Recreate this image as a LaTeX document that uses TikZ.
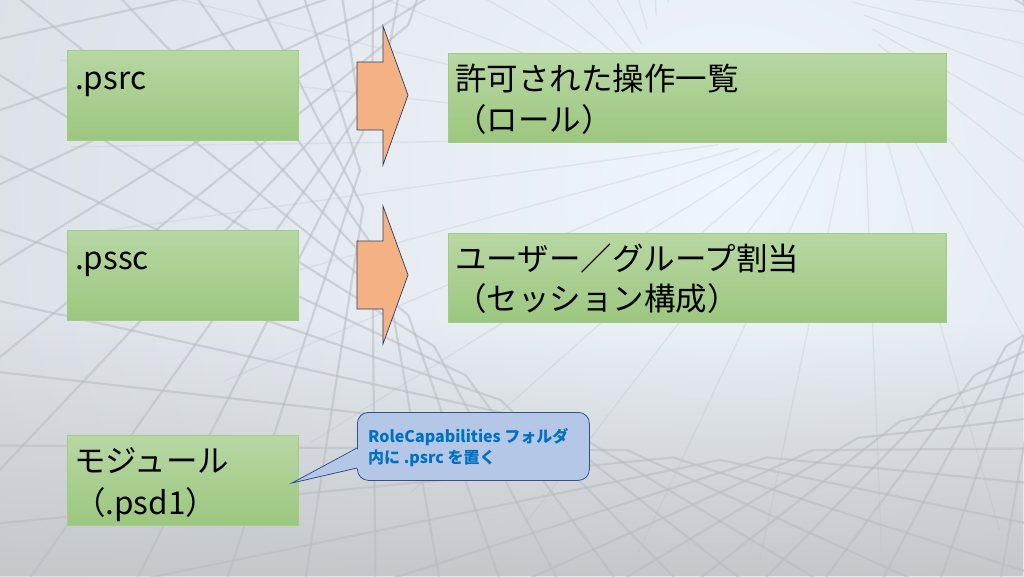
\documentclass[tikz,border=0pt]{standalone}
\usepackage{fontspec}
\setmainfont{Noto Sans CJK JP}
\usetikzlibrary{fadings}
\definecolor{gtop}{HTML}{B7D7A3}
\definecolor{gbot}{HTML}{9CC77F}
\definecolor{gborder}{HTML}{A0CC84}
\definecolor{arrfill}{HTML}{F4B183}
\definecolor{arrdraw}{HTML}{2F3D63}
\definecolor{cfill}{HTML}{B4C7E7}
\definecolor{cdraw}{HTML}{2F528F}
\definecolor{ctext}{HTML}{0070C0}
\definecolor{bgbase}{HTML}{D3D7DC}
\definecolor{bglight}{HTML}{EEF5FB}
\definecolor{bgbottom}{HTML}{C5C8CB}
\definecolor{latt}{HTML}{B7BCC2}
\tikzfading[name=fadeup, top color=transparent!100, bottom color=transparent!0]
\tikzset{
  gbox/.style={draw=gborder, line width=0.8pt, top color=gtop, bottom color=gbot,
    anchor=north west, inner sep=0pt},
  big/.style={font=\fontsize{31.5}{40}\selectfont, anchor=base west, inner sep=0pt, text=black},
  blockarrow/.style={fill=arrfill, draw=arrdraw, line width=0.7pt, line join=miter},
  lattline/.style={draw=latt, line width=2.2pt, opacity=0.55},
  lattin/.style={draw=latt, line width=1.4pt, opacity=0.25},
  ctxt/.style={font=\bfseries\fontsize{16}{21}\selectfont, text=ctext, anchor=base west, inner sep=0pt}
}
\begin{document}
\begin{tikzpicture}[x=1pt,y=-1pt]
\useasboundingbox (0,0) rectangle (1024,576);
% background
\begin{scope}
\clip (0,0) rectangle (1024,576);
\fill[bgbase] (0,0) rectangle (1024,576);
\shade[inner color=bglight, outer color=bgbase] (730,190) circle (1150);
\fill[bgbottom, path fading=fadeup] (0,320) rectangle (1024,576);
\foreach \a in {0,7.5,...,352.5} {
  \draw[lattline] ({720+360*cos(\a)},{170+290*sin(\a)}) -- ({720+1500*cos(\a+62)},{170+1200*sin(\a+62)});
  \draw[lattline] ({720+360*cos(\a)},{170+290*sin(\a)}) -- ({720+1500*cos(\a-62)},{170+1200*sin(\a-62)});
}
\foreach \a in {0,10,...,350} {
  \draw[lattin] ({760+120*cos(\a)},{60+90*sin(\a)}) -- ({760+700*cos(\a+50)},{60+500*sin(\a+50)});
}
\end{scope}

% left boxes
\node[gbox, minimum width=231pt, minimum height=90pt] (psrc) at (67,50) {};
\node[gbox, minimum width=231pt, minimum height=90pt] (pssc) at (67,230) {};
\node[gbox, minimum width=231pt, minimum height=90pt] (mod) at (67,435) {};
% right boxes
\node[gbox, minimum width=498pt, minimum height=89pt] (role) at (448,53) {};
\node[gbox, minimum width=498pt, minimum height=89pt] (sess) at (448,233) {};

% texts
\node[big] (psrct) at (75,89) {.psrc};
\node[big] (pssct) at (75,269) {.pssc};
\node[big] (modt1) at (74,472) {モジュール};
\node[big] (modt2) at (74,514) {（.psd1）};
\node[big] (rolet1) at (455,90) {許可された操作一覧};
\node[big] (rolet2) at (455,131) {（ロール）};
\node[big] (sesst1) at (455,270) {ユーザー／グループ割当};
\node[big] (sesst2) at (455,310) {（セッション構成）};

% block arrows
\draw[blockarrow] (357,62) -- (383,62) -- (383,26) -- (408,95) -- (383,165) -- (383,130) -- (357,130) -- cycle;
\draw[blockarrow] (357,241) -- (383,241) -- (383,206) -- (408,275) -- (383,344) -- (383,309) -- (357,309) -- cycle;

% callout
\node[draw=cdraw, fill=cfill, line width=0.8pt, rounded corners=11pt, anchor=north west,
      minimum width=232pt, minimum height=68pt, inner sep=0pt] (call) at (357,412) {};
\coordinate (tip) at (292,483);
\coordinate (ta) at (357,448);
\coordinate (tb) at (357,468);
\fill[cfill] ([xshift=3pt]ta) -- (tip) -- ([xshift=3pt]tb) -- cycle;
\draw[draw=cdraw, line width=0.8pt, line join=miter] (ta) -- (tip) -- (tb);
\node[ctxt] (callt1) at (368,442) {RoleCapabilities フォルダ};
\node[ctxt] (callt2) at (368,463) {内に .psrc を置く};
\end{tikzpicture}
\end{document}
